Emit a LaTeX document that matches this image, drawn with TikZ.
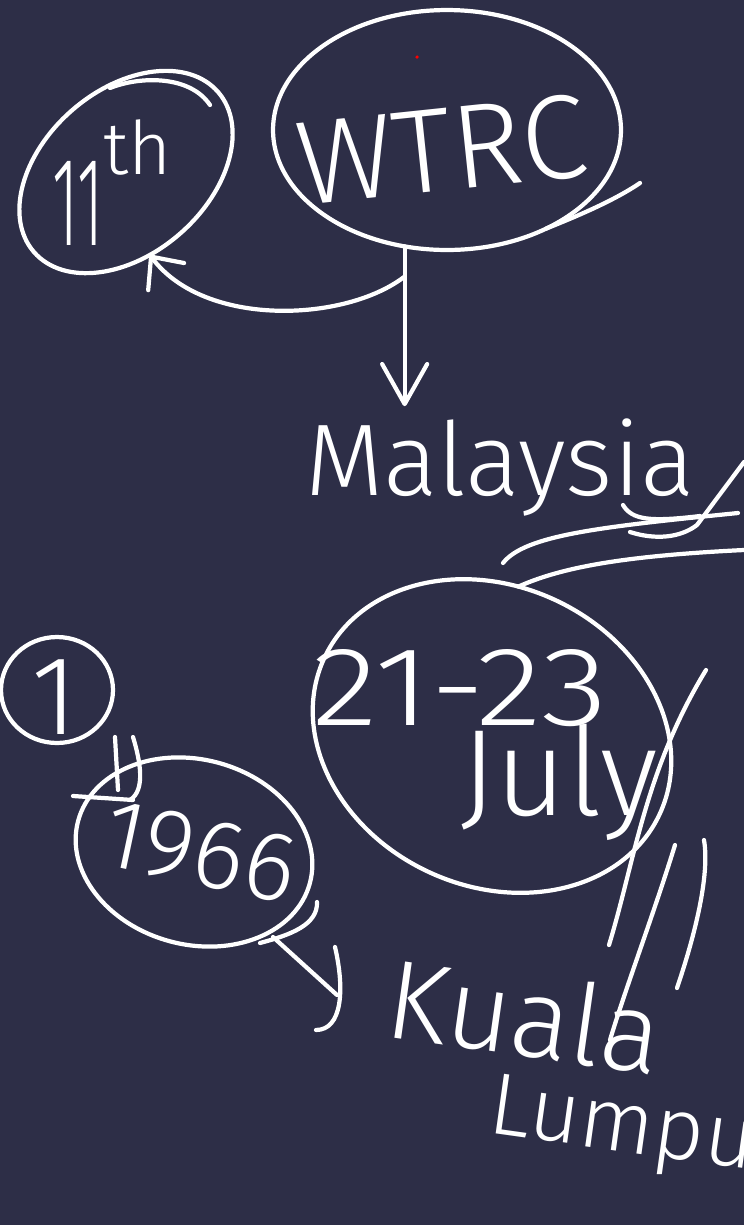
\documentclass[tikz,border=0pt]{standalone}
\usepackage{fontspec}
\setmainfont{Fira Sans}[UprightFont=* Light]
\usetikzlibrary{arrows.meta,shapes.geometric}
\definecolor{board}{HTML}{2D2E47}
\newcommand{\penpt}[1]{\fontsize{#1}{#1}\selectfont}

\begin{document}
\begin{tikzpicture}[x=0.02cm, y=-0.02cm,
		ink/.style={draw=white, line width=2.4pt, line cap=round, line join=round},
		ring/.style={ellipse, ink, inner sep=0pt, outer sep=0pt},
		scrawl/.style={text=white, inner sep=1pt},
		handarrow/.style={ink, -{Straight Barb[length=#1, width=9mm, round]}}]
	\fill[board] (0,0) rectangle (744,1225);
	\clip (0,0) rectangle (744,1225);
	\node[ring, minimum width=4.88cm, minimum height=3.28cm, rotate=41] (eleven) at (126,172) {};
	\node[ring, minimum width=6.96cm, minimum height=4.8cm] (wtrc) at (447,130) {};
	\node[ring, minimum width=7.4cm, minimum height=6cm, rotate=-25] (date) at (492,736) {};
	\node[ring, minimum width=4.8cm, minimum height=3.7cm, rotate=-15] (year) at (194,852) {};
	\node[ring, minimum width=2.24cm, minimum height=2.12cm] (one) at (57,690) {};
	\node[scrawl, anchor=base west] (eleventh) at (50,245) {\penpt{72}\scalebox{0.5}[1]{11}\raisebox{40pt}{\penpt{42}th}};
	\node[scrawl, rotate=6] (wtrctext) at (442,150) {\penpt{68}WTRC};
	\node[scrawl, anchor=base west] (malaysia) at (303,495) {\penpt{58}Malaysia};
	\node[scrawl] (days) at (460,688) {\scalebox{1.22}[1]{\penpt{64}21-23}};
	\node[scrawl, anchor=base west] (july) at (458,815) {\penpt{70}July};
	\node[scrawl] (onetext) at (55,697) {\penpt{64}1};
	\node[scrawl, rotate=-12] (yeartext) at (200,852) {\penpt{56}1966};
	\node[scrawl, anchor=base west, rotate=-8] (kuala) at (380,1036) {\penpt{64}Kuala};
	\node[scrawl, anchor=base west, rotate=-8] (lumpur) at (484,1132) {\penpt{50}Lumpur};
	\coordinate (fork) at (404,277);
	\draw[handarrow=8mm, shorten >=2mm] (wtrc.-110) -- (wtrc.-110 |- malaysia.north);
	\draw[handarrow=5mm] (fork) .. controls (345,322) and (205,328) .. (eleven.-115);
	\draw[ink] (110,88) .. controls (140,76) and (190,75) .. (210,105);
	\draw[ink] (wtrc.-45) .. controls (580,215) and (615,200) .. (640,183);
	\fill[red] (417,57) circle (1pt);
	\draw[ink] (503,563) .. controls (525,535) and (600,527) .. (738,513);
	\draw[ink] (623,505) .. controls (632,520) and (650,522) .. (700,516);
	\draw[ink] (630,532) .. controls (655,540) and (680,538) .. (697,525) -- (744,462);
	\draw[ink] (date.105) .. controls (560,568) and (620,556) .. (744,550);
	\draw[ink] (706,670) .. controls (645,770) and (635,860) .. (609,945);
	\draw[ink] (675,845) .. controls (655,910) and (625,990) .. (610,1040);
	\draw[ink] (704,840) .. controls (710,875) and (695,935) .. (677,988);
	\draw[ink] (115,737) -- (118,790);
	\draw[ink] (133,737) .. controls (140,760) and (146,790) .. (130,800);
	\draw[ink] (73,796) -- (133,800);
	\draw[ink] (317,902) .. controls (318,925) and (290,935) .. (260,943);
	\draw[ink] (273,937) -- (337,995);
	\draw[ink] (335,947) .. controls (345,990) and (342,1030) .. (316,1030);
\end{tikzpicture}
\end{document}
